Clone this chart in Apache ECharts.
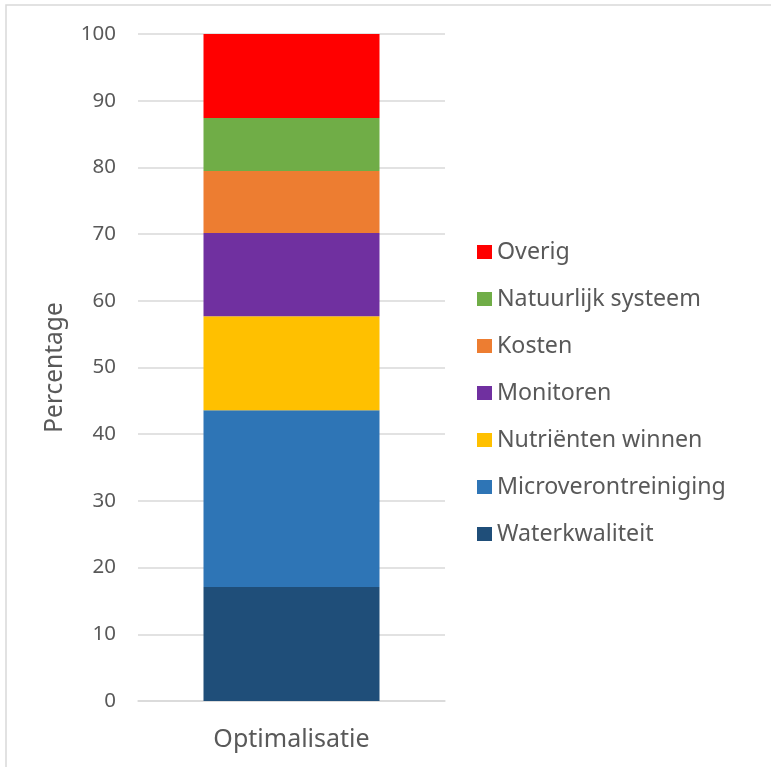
<!DOCTYPE html>
<html>
<head>
<meta charset="utf-8">
<script src="https://cdn.jsdelivr.net/npm/echarts@6/dist/echarts.min.js"></script>
<style>html,body{margin:0;padding:0;background:#fff}#c{width:771px;height:767px}</style>
</head>
<body>
<div id="c"></div>
<script>
var categories = ['Optimalisatie'];
var seriesNames = ['Waterkwaliteit','Microverontreiniging','Nutriënten winnen','Monitoren','Kosten','Natuurlijk systeem','Overig'];
var seriesValues = [17.1, 26.5, 14.1, 12.45, 9.3, 7.95, 12.6];
var seriesColors = ['#1f4e79','#2e75b6','#ffc000','#7030a0','#ed7d31','#70ad47','#ff0000'];
var legendOrder = ['Overig','Natuurlijk systeem','Kosten','Monitoren','Nutriënten winnen','Microverontreiniging','Waterkwaliteit'];

var chart = echarts.init(document.getElementById('c'));
var FONT = 'Noto Sans';
var series = seriesNames.map(function(n, i){
  return {name:n, type:'bar', stack:'total', data:[seriesValues[i]], barWidth:176,
    itemStyle:{color:seriesColors[i]}};
});
chart.setOption({
  animation:false,
  textStyle:{fontFamily:FONT},
  graphic:[{type:'rect', shape:{x:6, y:5, width:800, height:800}, style:{fill:'none', stroke:'#d9d9d9', lineWidth:1.5}, silent:true}],
  grid:{left:138, right:326, top:34, bottom:66, containLabel:false},
  legend:{orient:'vertical', left:472, top:233, data:legendOrder, itemWidth:15, itemHeight:14, itemGap:19,
    icon:'rect', textStyle:{fontFamily:FONT, fontSize:23.2, color:'#595959', lineHeight:28}},
  xAxis:{type:'category', data:categories, axisLine:{lineStyle:{color:'#d9d9d9', width:1.5}}, axisTick:{show:false},
    axisLabel:{fontFamily:FONT, fontSize:25, color:'#595959', margin:26}},
  yAxis:{type:'value', min:0, max:100, interval:10, name:'Percentage', nameLocation:'middle', nameGap:70,
    nameTextStyle:{fontFamily:FONT, fontSize:24.5, color:'#595959'},
    axisLine:{show:false}, axisTick:{show:false},
    axisLabel:{fontFamily:FONT, fontSize:20.5, color:'#595959', margin:22},
    splitLine:{lineStyle:{color:'#d9d9d9', width:1.5}}},
  series:series
});
</script>
</body>
</html>
